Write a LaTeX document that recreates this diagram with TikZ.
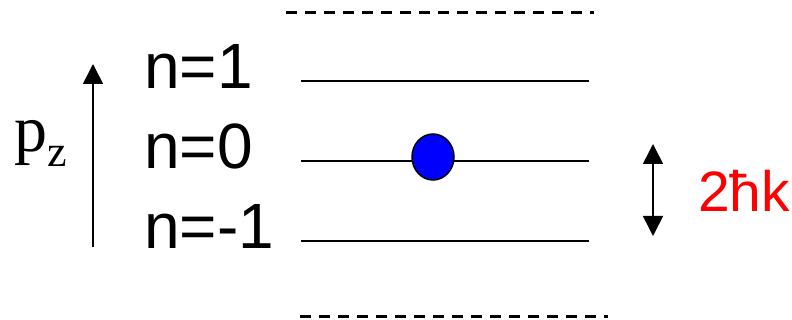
\documentclass[tikz,border=0pt]{standalone}
\usepackage{fontspec}
\setmainfont{Liberation Sans}
\newfontfamily\serifface{Liberation Serif}
\usetikzlibrary{arrows.meta,shapes.geometric}
\tikzset{
  level/.style={line width=1.8pt, black},
  dashlevel/.style={line width=3pt, black, dash pattern=on 11pt off 8pt},
  lbl/.style={anchor=base west, inner sep=0pt, font=\fontsize{64}{64}\selectfont},
  arr/.style={line width=1.6pt, -{Triangle[width=20pt 0,length=20pt 0]}},
  darr/.style={line width=1.6pt, {Triangle[width=20pt 0,length=20pt 0]}-{Triangle[width=20pt 0,length=20pt 0]}},
}
\begin{document}
\begin{tikzpicture}[x=1pt,y=-1pt]
\useasboundingbox (0,0) rectangle (792,320);
% dashed bounds
\coordinate (t1) at (286,13); \coordinate (t2) at (594,13);
\coordinate (b1) at (300,316); \coordinate (b2) at (608,316);
\draw[dashlevel] (t1) -- (t2);
\draw[dashlevel] (b1) -- (b2);
% levels
\coordinate (l1a) at (301,81); \coordinate (l1b) at (589,81);
\coordinate (l0a) at (301,161); \coordinate (l0b) at (589,161);
\coordinate (lma) at (301,241); \coordinate (lmb) at (589,241);
\draw[level] (l1a) -- (l1b);
\draw[level] (l0a) -- (l0b);
\draw[level] (lma) -- (lmb);
% labels
\node[lbl] (n1) at (144,89) {n=1};
\node[lbl] (n0) at (144,169) {n=0};
\node[lbl] (nm) at (144,249) {n=-1};
% particle
\node[draw=black, line width=1.5pt, fill=blue, ellipse, minimum width=42pt, minimum height=46pt, inner sep=0pt] (atom) at (433,157) {};
% pz axis
\coordinate (pzb) at (93,247); \coordinate (pzt) at (93,64);
\draw[arr] (pzb) -- (pzt);
\node[anchor=base west, inner sep=0pt, font=\serifface\fontsize{66}{66}\selectfont] (pz) at (14,152) {p\raisebox{-15pt}{\fontsize{44}{44}\selectfont z}};
% spacing arrow
\coordinate (da) at (653,144); \coordinate (db) at (653,236);
\draw[darr] (da) -- (db);
\node[anchor=base west, inner sep=0pt, text=red, font=\fontsize{57}{57}\selectfont] (hk) at (698,212) {2ħk};
\end{tikzpicture}
\end{document}
